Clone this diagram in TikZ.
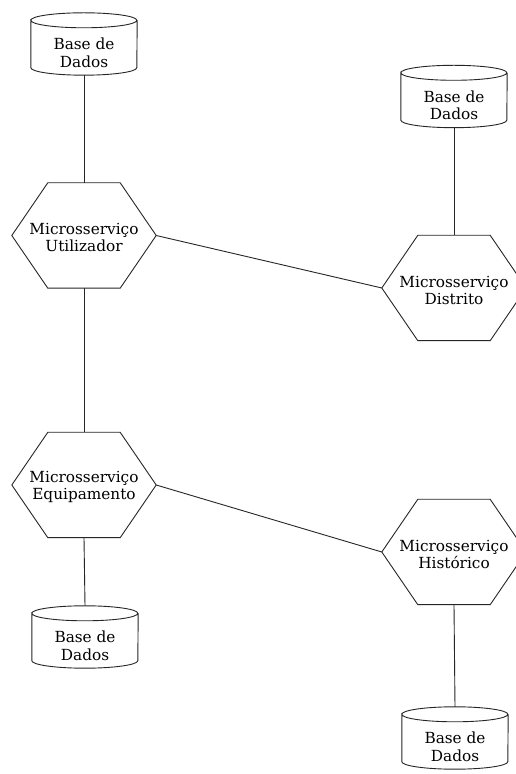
\documentclass[tikz,border=0pt]{standalone}
\usepackage{fontspec}
\setmainfont{DejaVu Serif}
\usetikzlibrary{calc}

% outline of a hexagonal service box around a (borderless) node
\newcommand\drawhex[1]{%
  \draw[outline] (#1.west) -- ([xshift=36pt]#1.north west) -- ([xshift=-36pt]#1.north east)
    -- (#1.east) -- ([xshift=-36pt]#1.south east) -- ([xshift=36pt]#1.south west) -- cycle;}
% outline of a database cylinder around a (borderless) node
\newcommand\drawdb[1]{%
  \draw[outline] ([yshift=-7.5pt]#1.north west)
    arc[start angle=180, end angle=-180, x radius=53pt, y radius=7.5pt]
    -- ([yshift=7.5pt]#1.south west)
    arc[start angle=180, end angle=360, x radius=53pt, y radius=7.5pt]
    -- ([yshift=-7.5pt]#1.north east);}

\begin{document}
\begin{tikzpicture}[x=1pt, y=1pt,
  outline/.style={draw=black!85, line width=0.9pt},
  link/.style={draw=black!85, line width=0.9pt},
  service/.style={minimum width=144pt, minimum height=105pt, inner sep=0pt},
  svclabel/.style={align=center, font=\fontsize{15.3pt}{17pt}\selectfont},
  database/.style={minimum width=106pt, minimum height=62pt, inner sep=0pt},
  dblabel/.style={align=center, font=\fontsize{15.3pt}{17.5pt}\selectfont}]
  \useasboundingbox (0,0) rectangle (515,774);
  \fill[white] (0,0) rectangle (515,774);

  % services
  \node[service] (util) at (84,538.5) {};
  \node[service] (dist) at (454,486) {};
  \node[service] (equip) at (84,289) {};
  \node[service] (hist) at (454,222) {};

  % databases
  \node[database] (db1) at (84,730) {};
  \node[database] (db2) at (454,677.5) {};
  \node[database] (db3) at (85,137) {};
  \node[database] (db4) at (455,36) {};

  \foreach \n/\t in {util/Utilizador,dist/Distrito,equip/Equipamento,hist/Histórico} {
    \drawhex{\n}
    \node[svclabel] at ([yshift=-2pt]\n.center) {Microsserviço\\\t};
  }
  \foreach \n in {db1,db2,db3,db4} {
    \drawdb{\n}
    \node[dblabel] at ([yshift=-9pt]\n.center) {Base de\\Dados};
  }

  % connections
  \draw[link] (db1.south) -- (util.north);
  \draw[link] (db2.south) -- (dist.north);
  \draw[link] (util.south) -- (equip.north);
  \draw[link] (equip.south) -- (db3.north);
  \draw[link] (hist.south) -- (db4.north);
  \draw[link] (util.east) -- (dist.west);
  \draw[link] (equip.east) -- (hist.west);
\end{tikzpicture}
\end{document}
